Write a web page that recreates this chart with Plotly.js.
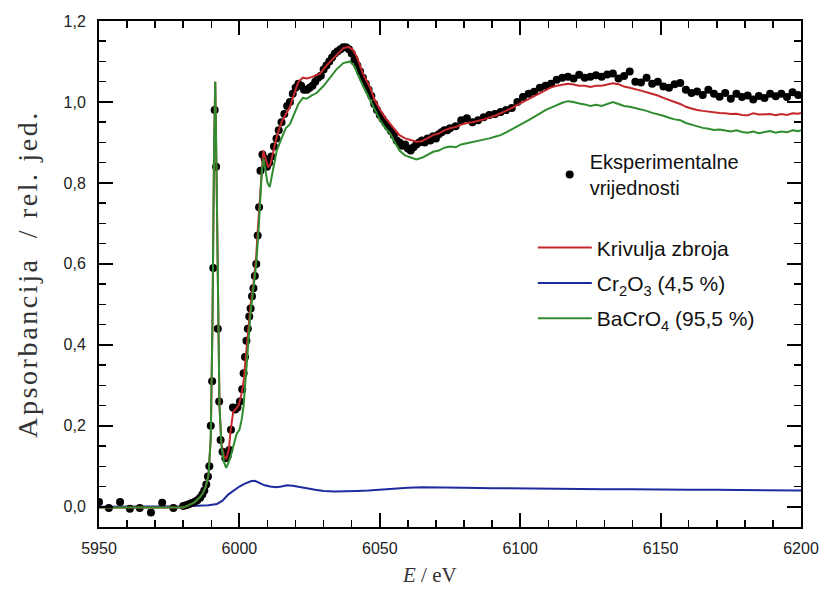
<!DOCTYPE html>
<html>
<head>
<meta charset="utf-8">
<script src="https://cdn.plot.ly/plotly-3.0.1.min.js"></script>
<style>
html,body{margin:0;padding:0;background:#fff;}
#chart{width:826px;height:593px;}
#chart .ytitle{letter-spacing:2.6px;}
</style>
</head>
<body>
<div id="chart"></div>
<script>
// Experimental points (E / eV, absorbance)
const expE = [5950,5953.5,5957.5,5961,5964.5,5968.5,5972.5,5976.5,
  5980,5981,5982,5983,5984,5985,5986,5986.8,5987.5,5988.2,5988.8,5989.3,5989.8,5990.3,5990.7,5991.2,5991.7,5992.3,5992.8,5993.3,5994,5995,5995.8,5996.4,5997,5997.7,5998.5,5999.3,6000.2,
  6001,6001.5,6002,6002.5,6003,6003.5,6004,6004.5,6005,6005.5,6006,6006.5,6007,6007.5,6008.2,6009,6009.8,6010.6,6011.4,6012.3,6013.2,6014,6015,6016,6017,6018,6019,6020,
  6021,6022,6023,6024,6025,6026,6027,6028,6029,6030,6031,6032,6033,6034,6035,6036,6037,6038,6039,6040,6041,6042,6043,6044,6045,6046,6047,6048,6049,6050,
  6051,6052,6053,6054,6055,6056,6057,6058,6059,6060,6061,6062,6063,6064,6065,6066,6067,6068,6069,6070,6071,6072,6073,6074,6075,6077,6079,6081,6083,6085,6087,6089,6091,6093,6095,6097,6099,
  6101,6103,6105,6107,6109,6111,6113,6115,6117,6119,6121,6123,6125,6127,6129,6131,6133,6135,6137,6139,6141,6143,6145,6147,6149,6151,6153,6155,6157,6159,
  6161,6163,6165,6167,6169,6171,6173,6175,6177,6179,6181,6183,6185,6187,6189,6191,6193,6195,6197,6199];
const expA = [0.012,-0.003,0.012,-0.005,-0.003,-0.014,0.01,-0.003,
  0.002,0.004,0.006,0.009,0.012,0.016,0.022,0.03,0.04,0.055,0.075,0.1,0.2,0.31,0.59,0.98,0.84,0.44,0.26,0.165,0.136,0.12,0.125,0.14,0.19,0.245,0.24,0.245,0.26,
  0.29,0.33,0.37,0.41,0.44,0.47,0.49,0.52,0.54,0.57,0.6,0.67,0.74,0.83,0.87,0.86,0.84,0.85,0.865,0.89,0.91,0.93,0.95,0.97,0.99,1.0,1.02,1.035,
  1.045,1.04,1.03,1.03,1.035,1.04,1.05,1.06,1.065,1.08,1.09,1.1,1.11,1.12,1.125,1.13,1.135,1.135,1.13,1.12,1.105,1.09,1.075,1.06,1.045,1.03,1.015,0.995,0.98,0.968,
  0.958,0.948,0.938,0.928,0.918,0.905,0.9,0.892,0.895,0.885,0.88,0.888,0.895,0.9,0.905,0.9,0.91,0.905,0.915,0.91,0.92,0.925,0.93,0.93,0.935,0.94,0.955,0.96,0.95,0.955,0.962,0.968,0.97,0.975,0.98,0.985,1.0,
  1.012,1.02,1.025,1.035,1.04,1.045,1.055,1.06,1.062,1.058,1.067,1.06,1.062,1.066,1.062,1.068,1.07,1.058,1.064,1.075,1.05,1.048,1.06,1.045,1.05,1.038,1.035,1.044,1.047,1.03,
  1.022,1.026,1.017,1.03,1.02,1.013,1.022,1.008,1.02,1.012,1.016,1.006,1.015,1.01,1.02,1.014,1.02,1.012,1.024,1.017];

// Sum curve (Krivulja zbroja)
const sumE = [5950,5965,5980,5982,5984,5986,5987,5988,5989,5989.8,5990.4,5991,5991.4,5991.9,5992.4,5992.9,5993.6,5994.5,5995.3,5996.2,5996.9,5997.8,5998.6,5999.7,6000.8,
  6001.5,6002,6002.6,6003.2,6004,6005,6006,6006.7,6007.3,6008,6008.5,6009.3,6010.2,6011,6012,6013.3,6015,6016.5,6018,6019.5,6021,6022.6,6024,6026,6028.7,
  6031,6033,6035,6037,6039,6040.5,6041.8,6043,6044,6045.5,6046.5,6048,6050,6052,6053.6,6055,6057,6059,6061,6063,6065,6067,6069,6071,6073,6075,6077,6079,6081,6083,6085,6087,6089,6091,6093,6095,6097,6099,
  6101,6103,6105,6107,6109,6111,6113,6115,6117,6119,6121,6123,6125,6127,6129,6131,6133,6135,6137,6139,6141,6143,6145,6147,6149,6151,6153,6155,6157,6159,
  6161,6163,6165,6167,6169,6171,6173,6175,6177,6179,6181,6183,6185,6187,6189,6191,6193,6195,6197,6199,6200];
const sumA = [-0.002,-0.002,-0.002,0.004,0.011,0.024,0.034,0.049,0.079,0.17,0.45,0.9,1.05,0.8,0.45,0.25,0.155,0.125,0.118,0.14,0.19,0.235,0.24,0.25,0.28,
  0.31,0.35,0.4,0.45,0.5,0.55,0.62,0.7,0.77,0.85,0.88,0.86,0.84,0.845,0.875,0.914,0.95,0.97,0.988,1.02,1.05,1.06,1.058,1.062,1.07,
  1.09,1.104,1.12,1.133,1.136,1.128,1.112,1.09,1.07,1.05,1.036,1.008,0.982,0.96,0.948,0.935,0.918,0.91,0.906,0.902,0.903,0.91,0.918,0.922,0.93,0.935,0.938,0.944,0.948,0.95,0.953,0.957,0.962,0.966,0.972,0.978,0.985,0.993,
  1.0,1.008,1.015,1.023,1.03,1.036,1.04,1.043,1.045,1.043,1.04,1.04,1.037,1.04,1.04,1.043,1.046,1.044,1.038,1.035,1.032,1.028,1.024,1.02,1.016,1.01,1.004,1.0,0.995,0.988,
  0.984,0.98,0.978,0.976,0.975,0.973,0.972,0.97,0.971,0.968,0.967,0.972,0.969,0.97,0.97,0.967,0.97,0.968,0.972,0.971,0.973];

// Cr2O3 component (4,5 %)
const crE = [5950,5960,5970,5980,5983,5986,5989,5992,5994,5996,5998,6000,6002,6004,6005.5,6007,6009,6011,6013,6015,6017,6019,6021,6024,6027,6030,6034,6038,6042,6046,6050,6055,6060,6065,6070,6080,6090,6100,6110,6120,6130,6140,6150,6160,6170,6180,6190,6200];
const crA = [0,0,0,0.001,0.002,0.003,0.004,0.007,0.015,0.03,0.04,0.05,0.057,0.063,0.064,0.06,0.053,0.05,0.048,0.05,0.053,0.052,0.05,0.046,0.042,0.039,0.038,0.038,0.039,0.04,0.042,0.045,0.047,0.048,0.048,0.047,0.046,0.045,0.044,0.044,0.043,0.043,0.042,0.042,0.042,0.041,0.041,0.04];

// BaCrO4 component (95,5 %)
const baE = [5950,5965,5980,5982,5984,5986,5987,5988,5989,5989.8,5990.4,5991,5991.4,5991.9,5992.4,5992.9,5993.6,5994.5,5995.3,5996.2,5997.2,5998.2,5999,6000,6000.8,
  6001.5,6002,6002.6,6003.2,6004,6005,6006,6006.8,6007.4,6008,6008.6,6009.3,6010,6010.8,6011.6,6012.5,6013.3,6015,6016.5,6018,6019.5,6021,6022.6,6024,6025.5,6027.5,
  6030,6032.3,6034.5,6037,6039.4,6041,6042,6044,6046.5,6048,6050,6052,6053.6,6055,6057,6059,6061,6063,6065,6067,6069,6071,6073,6075,6077,6079,6081,6083,6085,6087,6089,6091,6093,6095,6097,6099,
  6101,6103,6105,6107,6109,6111,6113,6115,6117,6119,6121,6123,6125,6127,6129,6131,6133,6135,6137,6139,6141,6143,6145,6147,6149,6151,6153,6155,6157,6159,
  6161,6163,6165,6167,6169,6171,6173,6175,6177,6179,6181,6183,6185,6187,6189,6191,6193,6195,6197,6199,6200];
const baA = [-0.002,-0.002,-0.002,0.004,0.011,0.024,0.034,0.049,0.079,0.17,0.45,0.9,1.05,0.8,0.45,0.25,0.15,0.11,0.096,0.11,0.133,0.16,0.18,0.19,0.215,
  0.25,0.3,0.36,0.42,0.48,0.54,0.6,0.68,0.76,0.83,0.86,0.83,0.8,0.79,0.82,0.86,0.88,0.91,0.935,0.945,0.97,0.995,1.01,1.008,1.015,1.022,
  1.04,1.062,1.08,1.096,1.1,1.088,1.07,1.04,1.005,0.98,0.956,0.935,0.923,0.905,0.88,0.868,0.862,0.858,0.862,0.87,0.877,0.88,0.887,0.89,0.888,0.895,0.898,0.9,0.904,0.906,0.91,0.914,0.918,0.925,0.932,0.94,
  0.948,0.955,0.963,0.972,0.98,0.986,0.992,0.998,1.002,1.0,0.996,0.994,0.99,0.993,0.99,0.996,1.0,0.995,0.99,0.988,0.985,0.982,0.978,0.973,0.97,0.966,0.961,0.957,0.955,0.948,
  0.944,0.94,0.936,0.934,0.931,0.932,0.929,0.927,0.93,0.926,0.924,0.927,0.923,0.926,0.928,0.924,0.927,0.925,0.93,0.928,0.93];

const xTickVals = [5950,6000,6050,6100,6150,6200];
const yTickVals = [0,0.2,0.4,0.6,0.8,1.0,1.2];

const RED = '#c4282c', BLUE = '#1f2a9e', GREEN = '#2f8c2f';

const traces = [
  {x: crE, y: crA, type: 'scatter', mode: 'lines', name: 'Cr<sub>2</sub>O<sub>3</sub> (4,5 %)',
   line: {color: BLUE, width: 2}, legend: 'legend2', legendrank: 2, legendgroup: 'b'},
  {x: expE, y: expA, type: 'scatter', mode: 'markers', name: 'Eksperimentalne<br>vrijednosti',
   marker: {color: '#000', size: 8}, legend: 'legend', legendrank: 1, legendgroup: 'e'},
  {x: sumE, y: sumA, type: 'scatter', mode: 'lines', name: 'Krivulja zbroja',
   line: {color: RED, width: 2}, legend: 'legend2', legendrank: 1, legendgroup: 'a'},
  {x: baE, y: baA, type: 'scatter', mode: 'lines', name: 'BaCrO<sub>4</sub> (95,5 %)',
   line: {color: GREEN, width: 2}, legend: 'legend2', legendrank: 3, legendgroup: 'c'}
];

const axisCommon = {
  showline: true, linecolor: '#000', linewidth: 2, mirror: 'ticks',
  ticks: 'inside', ticklen: 14, tickwidth: 2, tickcolor: '#000',
  showgrid: false, zeroline: false,
  tickfont: {family: 'Liberation Sans, Arial, sans-serif', size: 16, color: '#222'}
};

const layout = {
  width: 826, height: 593,
  margin: {l: 99, r: 25, t: 21, b: 66},
  paper_bgcolor: '#fff', plot_bgcolor: '#fff',
  separators: ', ',
  showlegend: true,
  xaxis: Object.assign({}, axisCommon, {
    range: [5950, 6200], tickvals: xTickVals, tickformat: 'd',
    minor: {dtick: 10, ticklen: 7, tickwidth: 1.5, tickcolor: '#000', ticks: 'inside'},
    ticklabelstandoff: 6
  }),
  yaxis: Object.assign({}, axisCommon, {
    range: [-0.05, 1.2], tickvals: yTickVals, tickformat: '.1f',
    minor: {dtick: 0.05, tick0: 0, ticklen: 7, tickwidth: 1.5, tickcolor: '#000', ticks: 'inside'},
    ticklabelstandoff: 8,
    title: {text: 'Apsorbancija  / rel. jed.\u00a0\u00a0', font: {family: 'Liberation Serif, Times New Roman, serif', size: 28, color: '#333'}, standoff: 18}
  }),
  legend: {x: 0.642, y: 0.761, xanchor: 'left', yanchor: 'top', bgcolor: 'rgba(0,0,0,0)',
    font: {family: 'Liberation Sans, Arial, sans-serif', size: 20, color: '#111'}, itemwidth: 30},
  legend2: {x: 0.618, y: 0.592, xanchor: 'left', yanchor: 'top', bgcolor: 'rgba(0,0,0,0)',
    font: {family: 'Liberation Sans, Arial, sans-serif', size: 21, color: '#111'}, itemwidth: 54, tracegroupgap: 5},
  annotations: [
    {xref: 'paper', yref: 'paper', x: 0.4715, y: -0.095, xanchor: 'center', yanchor: 'middle', showarrow: false,
     text: '<i>E</i> / eV', font: {family: 'Liberation Serif, Times New Roman, serif', size: 21, color: '#333'}}
  ]
};

Plotly.newPlot('chart', traces, layout, {displayModeBar: false, staticPlot: true});
</script>
</body>
</html>
